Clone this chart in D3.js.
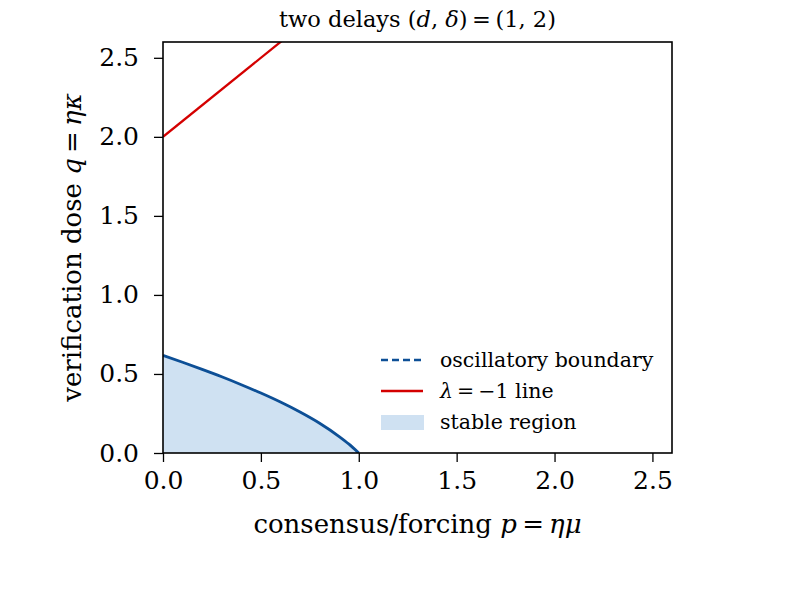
<!DOCTYPE html>
<html><head><meta charset="utf-8">
<script src="https://cdn.jsdelivr.net/npm/d3@7"></script>
<style>body{margin:0;background:#fff}svg{display:block}text{font-family:"DejaVu Serif",serif;fill:#000}</style>
</head><body><svg id="c" width="812" height="594"></svg>
<script>
const boundaryP = [0, 0.1, 0.2, 0.3, 0.4, 0.5, 0.6, 0.7, 0.8, 0.9, 0.95, 1.0];
const boundaryQ = [0.617, 0.574, 0.529, 0.482, 0.432, 0.379, 0.322, 0.259, 0.188, 0.104, 0.056, 0.0];
const lineP = [0, 2.6];
const lineQ = [2.0, 4.6];
const xTicks = [0, 0.5, 1.0, 1.5, 2.0, 2.5];
const yTicks = [0, 0.5, 1.0, 1.5, 2.0, 2.5];
const legendItems = ["oscillatory boundary", "λ = −1 line", "stable region"];

const svg = d3.select("#c");
const L = 163, R = 672, T = 42, B = 453;
const x = d3.scaleLinear().domain([0, 2.6]).range([L, R]);
const y = d3.scaleLinear().domain([0, 2.6]).range([B, T]);
const blue = "#0d4f96", fillBlue = "#cfe1f2", red = "#d40000";

svg.append("clipPath").attr("id", "clip").append("rect").attr("x", L).attr("y", T).attr("width", R - L).attr("height", B - T);
const g = svg.append("g").attr("clip-path", "url(#clip)");
const pts = boundaryP.map((p, i) => [p, boundaryQ[i]]);
g.append("path").datum(pts)
  .attr("d", d3.area().x(d => x(d[0])).y0(y(0)).y1(d => y(d[1])).curve(d3.curveMonotoneX))
  .attr("fill", fillBlue);
g.append("path").datum(pts)
  .attr("d", d3.line().x(d => x(d[0])).y(d => y(d[1])).curve(d3.curveMonotoneX))
  .attr("fill", "none").attr("stroke", blue).attr("stroke-width", 2.8);
g.append("path").datum(lineP.map((p, i) => [p, lineQ[i]]))
  .attr("d", d3.line().x(d => x(d[0])).y(d => y(d[1])))
  .attr("fill", "none").attr("stroke", red).attr("stroke-width", 2.3);

const xa = svg.append("g").attr("transform", `translate(0,${B})`)
  .call(d3.axisBottom(x).tickValues(xTicks).tickFormat(d3.format(".1f")).tickSize(9).tickPadding(9));
const ya = svg.append("g").attr("transform", `translate(${L},0)`)
  .call(d3.axisLeft(y).tickValues(yTicks).tickFormat(d3.format(".1f")).tickSize(9).tickPadding(15));
[xa, ya].forEach(a => {
  a.select(".domain").remove();
  a.selectAll("line").attr("stroke", "#000").attr("stroke-width", 1.3);
  a.selectAll("text").style("font-family", "DejaVu Serif").style("font-size", "25px").attr("fill", "#000");
});
svg.append("rect").attr("x", L).attr("y", T).attr("width", R - L).attr("height", B - T)
  .attr("fill", "none").attr("stroke", "#000").attr("stroke-width", 1.6);

// title
const t = svg.append("text").attr("x", (L + R) / 2).attr("y", 27).attr("text-anchor", "middle").style("font-size", "22.5px");
t.append("tspan").text("two delays (");
t.append("tspan").attr("font-style", "italic").text("d");
t.append("tspan").text(", ");
t.append("tspan").attr("font-style", "italic").text("δ");
t.append("tspan").text(")\u2009=\u2009(1, 2)");

// x label
const xl = svg.append("text").attr("x", (L + R) / 2).attr("y", 533).attr("text-anchor", "middle").style("font-size", "26px");
xl.append("tspan").text("consensus/forcing ");
xl.append("tspan").attr("font-style", "italic").text("p");
xl.append("tspan").text("\u2009=\u2009");
xl.append("tspan").attr("font-style", "italic").text("ημ");

// y label
const yl = svg.append("text").attr("transform", `translate(81,${(T + B) / 2}) rotate(-90)`).attr("text-anchor", "middle").style("font-size", "26px");
yl.append("tspan").text("verification dose ");
yl.append("tspan").attr("font-style", "italic").text("q");
yl.append("tspan").text("\u2009=\u2009");
yl.append("tspan").attr("font-style", "italic").text("ηκ");

// legend
const lg = svg.append("g");
const ly = [360, 391, 422];
lg.append("line").attr("x1", 381).attr("x2", 423).attr("y1", ly[0]).attr("y2", ly[0])
  .attr("stroke", blue).attr("stroke-width", 2.4).attr("stroke-dasharray", "7,4");
lg.append("line").attr("x1", 381).attr("x2", 423).attr("y1", ly[1]).attr("y2", ly[1])
  .attr("stroke", red).attr("stroke-width", 2.4);
lg.append("rect").attr("x", 381).attr("y", ly[2] - 7).attr("width", 43).attr("height", 15).attr("fill", fillBlue);
lg.append("text").attr("x", 440).attr("y", ly[0] + 7).style("font-size", "20.5px").text(legendItems[0]);
const l2 = lg.append("text").attr("x", 440).attr("y", ly[1] + 7).style("font-size", "20.5px");
l2.append("tspan").attr("font-style", "italic").text("λ");
l2.append("tspan").text("\u2009=\u2009−1 line");
lg.append("text").attr("x", 440).attr("y", ly[2] + 7).style("font-size", "20.5px").text(legendItems[2]);
</script></body></html>
